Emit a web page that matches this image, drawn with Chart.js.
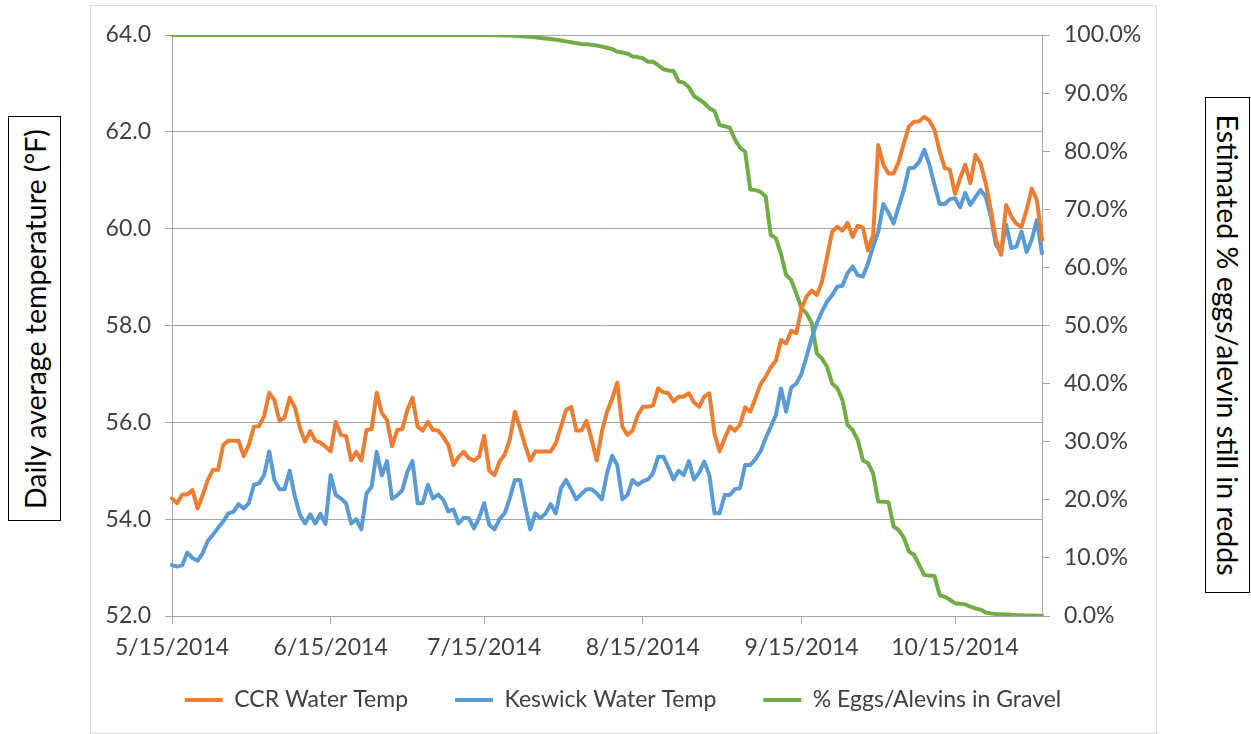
<!DOCTYPE html>
<html>
<head>
<meta charset="utf-8">
<script src="https://cdn.jsdelivr.net/npm/chart.js@4.4.0/dist/chart.umd.min.js"></script>
<style>
    html, body { margin: 0; padding: 0; background: #fff; }
    #wrap { position: relative; width: 1251px; height: 734px; overflow: hidden; }
    #frame { position: absolute; left: 90px; top: 5px; width: 1067px; height: 729px; border: 1px solid #d9d9d9; box-sizing: border-box; }
    #chart { position: absolute; left: 0; top: 0; }
    .axis-title { position: absolute; border: 1px solid #000; box-sizing: border-box; background: #fff; }
    .axis-title span { position: absolute; left: 50%; top: 50%; white-space: nowrap; font-family: Lato, sans-serif; font-size: 28.5px; color: #000; }
    #titleL { left: 8px; top: 116px; width: 53px; height: 405px; }
    #titleL span { transform: translate(-50%, -50%) rotate(-90deg); }
    #titleR { left: 1205px; top: 97px; width: 45px; height: 496px; }
    #titleR span { transform: translate(-50%, -50%) rotate(90deg); }
</style>
</head>
<body>
<div id="wrap">
    <div id="frame"></div>
    <canvas id="chart" width="1251" height="734"></canvas>
    <div class="axis-title" id="titleL"><span>Daily average temperature (°F)</span></div>
    <div class="axis-title" id="titleR"><span>Estimated % eggs/alevin still in redds</span></div>
</div>
<script>
// daily dates, 5/15/2014 .. 11/1/2014
const dayCount = 171;
const dayLabels = [];
for (let i = 0; i < dayCount; i++) {
    const d = new Date(2014, 4, 15 + i);
    dayLabels.push((d.getMonth() + 1) + '/' + d.getDate() + '/' + d.getFullYear());
}
const tickLabels = ['5/15/2014', '6/15/2014', '7/15/2014', '8/15/2014', '9/15/2014', '10/15/2014'];

const seriesNames = ['CCR Water Temp', 'Keswick Water Temp', '% Eggs/Alevins in Gravel'];

// deg F
const ccrTemp = [
    54.43, 54.33, 54.51, 54.51, 54.60, 54.22, 54.50, 54.81, 55.02, 55.02,
    55.53, 55.62, 55.62, 55.62, 55.30, 55.53, 55.91, 55.92, 56.13, 56.61,
    56.46, 56.03, 56.10, 56.51, 56.31, 55.88, 55.60, 55.82, 55.62, 55.58,
    55.50, 55.40, 56.01, 55.74, 55.72, 55.22, 55.39, 55.21, 55.84, 55.86,
    56.61, 56.19, 56.05, 55.51, 55.84, 55.86, 56.26, 56.51, 55.91, 55.83,
    56.01, 55.84, 55.83, 55.70, 55.53, 55.12, 55.29, 55.39, 55.26, 55.21,
    55.29, 55.72, 55.00, 54.91, 55.19, 55.33, 55.64, 56.22, 55.88, 55.53,
    55.21, 55.40, 55.40, 55.40, 55.40, 55.57, 55.91, 56.25, 56.32, 55.83,
    55.83, 56.03, 55.64, 55.21, 55.81, 56.22, 56.48, 56.82, 55.91, 55.74,
    55.83, 56.15, 56.32, 56.32, 56.35, 56.70, 56.62, 56.60, 56.43, 56.53,
    56.53, 56.60, 56.41, 56.32, 56.53, 56.60, 55.77, 55.40, 55.67, 55.91,
    55.83, 55.95, 56.31, 56.22, 56.50, 56.79, 56.94, 57.14, 57.27, 57.70,
    57.63, 57.89, 57.84, 58.35, 58.60, 58.72, 58.63, 58.90, 59.42, 59.94,
    60.04, 59.96, 60.12, 59.83, 60.06, 60.02, 59.55, 59.87, 61.73, 61.32,
    61.14, 61.14, 61.38, 61.76, 62.11, 62.21, 62.22, 62.31, 62.23, 62.04,
    61.60, 61.25, 61.22, 60.72, 61.04, 61.32, 60.94, 61.52, 61.35, 60.94,
    60.39, 59.77, 59.46, 60.49, 60.25, 60.10, 60.04, 60.39, 60.83, 60.59,
    59.77
];

const keswickTemp = [
    53.05, 53.02, 53.05, 53.31, 53.20, 53.14, 53.30, 53.55, 53.68, 53.82,
    53.95, 54.12, 54.15, 54.31, 54.22, 54.33, 54.71, 54.74, 54.91, 55.40,
    54.81, 54.62, 54.62, 55.00, 54.47, 54.09, 53.91, 54.10, 53.91, 54.11,
    53.90, 54.91, 54.50, 54.43, 54.33, 53.91, 54.00, 53.79, 54.53, 54.67,
    55.39, 54.90, 55.20, 54.42, 54.49, 54.60, 54.98, 55.20, 54.33, 54.33,
    54.71, 54.43, 54.51, 54.40, 54.16, 54.20, 53.91, 54.03, 54.02, 53.81,
    54.02, 54.33, 53.88, 53.79, 54.00, 54.12, 54.43, 54.81, 54.81, 54.29,
    53.79, 54.12, 54.02, 54.12, 54.31, 54.12, 54.64, 54.81, 54.62, 54.41,
    54.52, 54.62, 54.62, 54.53, 54.41, 54.95, 55.31, 55.12, 54.41, 54.50,
    54.81, 54.71, 54.78, 54.82, 54.95, 55.29, 55.29, 55.07, 54.82, 55.00,
    54.91, 55.20, 54.82, 54.96, 55.19, 54.91, 54.12, 54.12, 54.50, 54.50,
    54.62, 54.64, 55.12, 55.12, 55.24, 55.40, 55.67, 55.91, 56.15, 56.70,
    56.22, 56.72, 56.80, 57.00, 57.36, 57.74, 58.05, 58.29, 58.49, 58.63,
    58.80, 58.82, 59.08, 59.22, 59.04, 59.01, 59.28, 59.63, 59.94, 60.51,
    60.33, 60.11, 60.46, 60.80, 61.25, 61.26, 61.38, 61.63, 61.32, 60.90,
    60.51, 60.51, 60.61, 60.63, 60.44, 60.74, 60.49, 60.65, 60.80, 60.66,
    60.25, 59.66, 59.52, 60.08, 59.60, 59.63, 59.94, 59.52, 59.77, 60.18,
    59.49
];

// percent still in gravel
const eggsPct = [
    100, 100, 100, 100, 100, 100, 100, 100, 100, 100,
    100, 100, 100, 100, 100, 100, 100, 100, 100, 100,
    100, 100, 100, 100, 100, 100, 100, 100, 100, 100,
    100, 100, 100, 100, 100, 100, 100, 100, 100, 100,
    100, 100, 100, 100, 100, 100, 100, 100, 100, 100,
    100, 100, 100, 100, 100, 100, 100, 100, 100, 100,
    100, 100, 100, 99.95, 99.95, 99.9, 99.9, 99.85, 99.8, 99.75,
    99.7, 99.6, 99.5, 99.4, 99.3, 99.2, 99.05, 98.9, 98.75, 98.6,
    98.45, 98.4, 98.3, 98.2, 98.0, 97.8, 97.6, 97.1, 97.0, 96.8,
    96.3, 96.2, 96.0, 95.4, 95.4, 94.8, 94.1, 93.9, 93.8, 92.0,
    91.8, 91.0, 89.5, 88.9, 88.3, 87.4, 86.9, 84.5, 84.3, 84.05,
    82.0, 80.6, 79.9, 73.4, 73.3, 73.0, 72.2, 65.6, 65.0, 62.3,
    58.7, 57.8, 55.5, 53.0, 52.1, 50.4, 45.2, 44.3, 42.9, 40.0,
    39.2, 37.2, 32.9, 32.0, 30.3, 26.8, 26.3, 24.55, 19.7, 19.65,
    19.6, 15.4, 14.8, 13.5, 11.1, 10.5, 8.8, 7.05, 6.95, 6.9,
    3.6, 3.3, 2.8, 2.2, 2.1, 2.0, 1.6, 1.3, 1.1, 0.6,
    0.45, 0.35, 0.3, 0.25, 0.2, 0.15, 0.12, 0.1, 0.08, 0.05,
    0.05
];

const colors = ['#ED7D31', '#5B9BD5', '#70AD47'];
const gridColor = '#a6a6a6';
const textColor = '#404040';
const tickFont = { family: 'Lato', size: 23 };

const lineSet = (i, data, axis) => ({
    label: seriesNames[i],
    data: data,
    yAxisID: axis,
    borderColor: colors[i],
    backgroundColor: colors[i],
    borderWidth: 4,
    pointRadius: 0,
    tension: 0,
    fill: false,
    borderJoinStyle: 'round',
    borderCapStyle: 'round'
});

// x labels hang below the (thin) x-axis box, so widen its clip area
const xLabelRoom = {
    id: 'xLabelRoom',
    afterLayout(chart) { chart.scales.x.bottom += 40; }
};

new Chart(document.getElementById('chart'), {
    type: 'line',
    data: {
        labels: dayLabels,
        datasets: [
            lineSet(0, ccrTemp, 'y'),
            lineSet(1, keswickTemp, 'y'),
            lineSet(2, eggsPct, 'y1')
        ]
    },
    plugins: [xLabelRoom],
    options: {
        responsive: false,
        animation: false,
        devicePixelRatio: 1,
        layout: { padding: { left: 90, right: 95, top: 35, bottom: 12.5 } },
        plugins: {
            tooltip: { enabled: false },
            legend: {
                position: 'bottom',
                labels: {
                    usePointStyle: true,
                    pointStyle: 'line',
                    pointStyleWidth: 38,
                    padding: 47,
                    color: textColor,
                    font: tickFont
                }
            }
        },
        scales: {
            x: {
                type: 'category',
                offset: false,
                grid: { drawOnChartArea: false, tickLength: 8, color: gridColor },
                border: { color: gridColor },
                ticks: {
                    autoSkip: false,
                    maxRotation: 0,
                    padding: 10,
                    color: textColor,
                    font: tickFont,
                    callback: function (value) {
                        const lbl = this.getLabelForValue(value);
                        return tickLabels.includes(lbl) ? lbl : null;
                    }
                },
                afterFit: s => { s.height = 25.5; }
            },
            y: {
                position: 'left',
                min: 52,
                max: 64,
                grid: { color: gridColor, tickLength: 7 },
                border: { color: gridColor },
                ticks: { stepSize: 2, padding: 14, color: textColor, font: tickFont, callback: v => v.toFixed(1) },
                afterFit: s => { s.width = 82; }
            },
            y1: {
                position: 'right',
                min: 0,
                max: 100,
                grid: { drawOnChartArea: false, tickLength: 8, color: gridColor },
                border: { color: gridColor },
                ticks: { stepSize: 10, padding: 14, color: textColor, font: tickFont, callback: v => v.toFixed(1) + '%' },
                afterFit: s => { s.width = 114; }
            }
        }
    }
});
</script>
</body>
</html>
